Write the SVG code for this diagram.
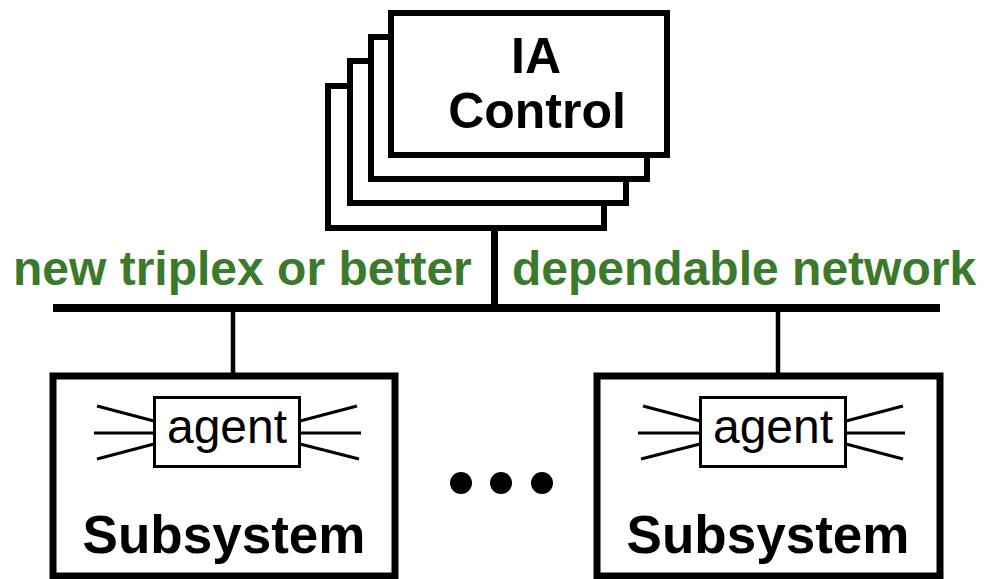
<svg xmlns="http://www.w3.org/2000/svg" width="988" height="579" viewBox="0 0 988 579">
<style>
.stack{fill:#fff;stroke:#000;stroke-width:6}
.sub{fill:#fff;stroke:#000;stroke-width:7}
.agent{fill:#fff;stroke:#000;stroke-width:3}
.ray{stroke:#000;stroke-width:3;fill:none}
.wire{stroke:#000;fill:none}
.bold{font-family:"Liberation Sans",Arial,sans-serif;font-weight:bold;fill:#000;text-anchor:middle}
.net{font-family:"Liberation Sans",Arial,sans-serif;font-weight:bold;fill:#3b7a2b;font-size:48px}
.ag{font-family:"Liberation Sans",Arial,sans-serif;font-size:48px;fill:#000;text-anchor:middle}
</style>
<rect width="988" height="579" fill="#fff"/>
<g id="connectors">
<line class="wire" x1="494.5" y1="228" x2="494.5" y2="308" stroke-width="7"/>
<line class="wire" x1="53" y1="308" x2="940" y2="308" stroke-width="8"/>
<line class="wire" x1="233" y1="308" x2="233" y2="397" stroke-width="4.5"/>
<line class="wire" x1="778" y1="308" x2="778" y2="397" stroke-width="4.5"/>
</g>
<g id="ia-control">
<rect class="stack" x="328" y="86" width="276" height="142"/>
<rect class="stack" x="350" y="61" width="276" height="142"/>
<rect class="stack" x="371" y="37" width="276" height="142"/>
<rect class="stack" x="391" y="13" width="276" height="142"/>
<text class="bold" x="536" y="73" font-size="50">IA</text>
<text class="bold" x="537" y="128" font-size="50">Control</text>
</g>
<g id="network-label">
<text class="net" x="13" y="285">new triplex or better</text>
<text class="net" x="512" y="285">dependable network</text>
</g>
<g id="subsystem-left">
<rect class="sub" x="53" y="376" width="342" height="200"/>
<rect class="agent" x="154.5" y="397.5" width="145" height="69"/>
<text class="ag" x="227" y="443">agent</text>
<path class="ray" d="M97 406L154 421M94 433H154M97 459L154 444M300 421L357 406M300 433H361M300 444L359 459"/>
<text class="bold" x="224" y="553" font-size="53">Subsystem</text>
</g>
<g id="ellipsis">
<circle cx="461" cy="483" r="11"/>
<circle cx="501" cy="483" r="11"/>
<circle cx="542" cy="483" r="11"/>
</g>
<g id="subsystem-right">
<rect class="sub" x="597" y="376" width="343" height="200"/>
<rect class="agent" x="700.5" y="397.5" width="145" height="69"/>
<text class="ag" x="773" y="443">agent</text>
<path class="ray" d="M643 406L700 421M638 433H700M641 459L700 444M846 421L903 406M846 433H905M846 444L903 459"/>
<text class="bold" x="768" y="553" font-size="53">Subsystem</text>
</g>
</svg>
